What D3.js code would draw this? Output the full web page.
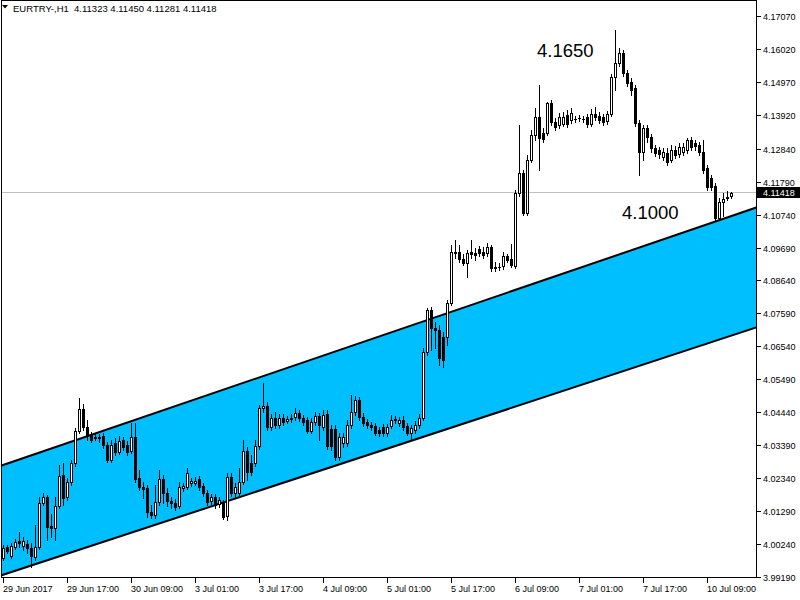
<!DOCTYPE html>
<html><head><meta charset="utf-8">
<script src="https://cdn.jsdelivr.net/npm/d3@7/dist/d3.min.js"></script>
<style>body{margin:0;background:#fff}svg{display:block}</style>
</head><body>
<svg id="chart" width="800" height="600"></svg>
<script>
const symbolTitle = "EURTRY-,H1";
const lastQuote = [4.11323, 4.11450, 4.11281, 4.11418];
const bidPrice = 4.11418;

const open = [
3.9980,4.0015,3.9986,4.0015,4.0034,4.0018,4.0024,4.0012,3.9983,4.0015,
4.0155,4.0174,4.0082,4.0075,4.0145,4.0244,4.0174,4.0222,4.0282,4.0384,
4.0455,4.0397,4.0375,4.0362,4.0365,4.0368,4.0340,4.0292,4.0346,4.0318,
4.0356,4.0340,4.0321,4.0365,4.0235,4.0206,4.0203,4.0126,4.0117,4.0158,
4.0231,4.0187,4.0161,4.0155,4.0145,4.0203,4.0206,4.0219,4.0219,4.0231,
4.0209,4.0187,4.0161,4.0174,4.0152,4.0155,4.0114,4.0238,4.0187,4.0187,
4.0222,4.0321,4.0282,4.0282,4.0337,4.0458,4.0464,4.0397,4.0426,4.0404,
4.0426,4.0416,4.0423,4.0429,4.0442,4.0426,4.0420,4.0384,4.0413,4.0432,
4.0397,4.0439,4.0391,4.0391,4.0302,4.0346,4.0346,4.0404,4.0445,4.0483,
4.0429,4.0413,4.0404,4.0400,4.0388,4.0397,4.0378,4.0400,4.0418,4.0410,
4.0420,4.0400,4.0378,4.0388,4.0404,4.0426,4.0636,4.0770,4.0713,4.0706,
4.0684,4.0684,4.0792,4.0952,4.0955,4.0933,4.0920,4.0955,4.0952,4.0964,
4.0955,4.0952,4.0971,4.0904,4.0907,4.0910,4.0942,4.0933,4.0910,4.1143,
4.1207,4.1079,4.1248,4.1328,4.1385,4.1334,4.1334,4.1430,4.1369,4.1360,
4.1363,4.1392,4.1376,4.1378,4.1381,4.1380,4.1385,4.1363,4.1395,4.1389,
4.1385,4.1372,4.1395,4.1513,4.1557,4.1589,4.1525,4.1497,4.1478,4.1366,
4.1274,4.1350,4.1321,4.1286,4.1280,4.1258,4.1270,4.1248,4.1280,4.1267,
4.1274,4.1280,4.1312,4.1302,4.1296,4.1274,4.1223,4.1191,4.1165,4.1063,
4.1114,4.1127,4.11323];

const high = [
4.0021,4.0021,4.0027,4.0040,4.0063,4.0047,4.0037,4.0027,4.0085,4.0174,
4.0187,4.0181,4.0120,4.0174,4.0276,4.0282,4.0235,4.0292,4.0394,4.0490,
4.0471,4.0420,4.0381,4.0375,4.0375,4.0378,4.0349,4.0356,4.0362,4.0368,
4.0365,4.0353,4.0410,4.0410,4.0260,4.0222,4.0212,4.0149,4.0212,4.0260,
4.0244,4.0203,4.0174,4.0168,4.0222,4.0219,4.0267,4.0235,4.0238,4.0241,
4.0219,4.0196,4.0184,4.0184,4.0174,4.0165,4.0251,4.0251,4.0219,4.0267,
4.0356,4.0334,4.0308,4.0356,4.0467,4.0537,4.0477,4.0439,4.0445,4.0439,
4.0439,4.0432,4.0439,4.0458,4.0451,4.0435,4.0429,4.0426,4.0445,4.0442,
4.0451,4.0451,4.0404,4.0404,4.0378,4.0378,4.0420,4.0499,4.0496,4.0493,
4.0442,4.0423,4.0413,4.0410,4.0397,4.0407,4.0407,4.0435,4.0432,4.0429,
4.0432,4.0410,4.0404,4.0416,4.0439,4.0649,4.0776,4.0780,4.0732,4.0722,
4.0700,4.0802,4.0977,4.0993,4.0977,4.0949,4.0961,4.0993,4.0968,4.0974,
4.0971,4.0984,4.0977,4.0923,4.0920,4.0955,4.0949,4.0980,4.1152,4.1360,
4.1216,4.1264,4.1344,4.1414,4.1487,4.1350,4.1433,4.1439,4.1382,4.1398,
4.1401,4.1407,4.1414,4.1389,4.1392,4.1389,4.1395,4.1411,4.1417,4.1401,
4.1395,4.1404,4.1522,4.1662,4.1605,4.1599,4.1535,4.1509,4.1487,4.1376,
4.1360,4.1360,4.1331,4.1296,4.1289,4.1286,4.1286,4.1296,4.1293,4.1302,
4.1302,4.1318,4.1321,4.1312,4.1305,4.1312,4.1232,4.1200,4.1175,4.1127,
4.1143,4.1149,4.11450];

const low = [
3.9973,3.9996,3.9980,4.0008,4.0015,4.0005,3.9996,3.9951,3.9973,4.0008,
4.0149,4.0037,4.0047,4.0037,4.0139,4.0149,4.0165,4.0212,4.0273,4.0378,
4.0388,4.0356,4.0349,4.0356,4.0349,4.0330,4.0286,4.0286,4.0308,4.0311,
4.0324,4.0308,4.0314,4.0222,4.0196,4.0171,4.0110,4.0107,4.0107,4.0149,
4.0155,4.0145,4.0139,4.0133,4.0139,4.0193,4.0200,4.0209,4.0212,4.0196,
4.0177,4.0149,4.0152,4.0139,4.0142,4.0104,4.0101,4.0177,4.0174,4.0181,
4.0216,4.0228,4.0244,4.0273,4.0327,4.0445,4.0388,4.0388,4.0394,4.0394,
4.0404,4.0410,4.0413,4.0420,4.0416,4.0404,4.0378,4.0378,4.0404,4.0356,
4.0388,4.0327,4.0324,4.0292,4.0292,4.0334,4.0337,4.0394,4.0435,4.0420,
4.0400,4.0394,4.0388,4.0372,4.0368,4.0368,4.0368,4.0394,4.0410,4.0400,
4.0388,4.0372,4.0356,4.0378,4.0394,4.0420,4.0627,4.0643,4.0649,4.0595,
4.0588,4.0659,4.0786,4.0936,4.0923,4.0913,4.0875,4.0936,4.0929,4.0942,
4.0936,4.0942,4.0894,4.0894,4.0897,4.0901,4.0923,4.0907,4.0904,4.1133,
4.1073,4.1073,4.1242,4.1312,4.1216,4.1305,4.1328,4.1360,4.1344,4.1350,
4.1357,4.1353,4.1366,4.1369,4.1372,4.1369,4.1353,4.1357,4.1376,4.1366,
4.1360,4.1363,4.1389,4.1471,4.1548,4.1516,4.1484,4.1455,4.1357,4.1200,
4.1248,4.1305,4.1274,4.1261,4.1254,4.1248,4.1232,4.1242,4.1254,4.1258,
4.1264,4.1270,4.1280,4.1280,4.1264,4.1207,4.1152,4.1152,4.1057,4.1057,
4.1070,4.1121,4.11281];

const close = [
4.0012,4.0002,4.0018,4.0031,4.0027,4.0034,4.0012,3.9986,4.0015,4.0155,
4.0174,4.0079,4.0075,4.0145,4.0241,4.0171,4.0222,4.0282,4.0384,4.0455,
4.0397,4.0372,4.0356,4.0365,4.0362,4.0340,4.0292,4.0340,4.0318,4.0353,
4.0334,4.0318,4.0365,4.0231,4.0206,4.0200,4.0126,4.0117,4.0158,4.0231,
4.0187,4.0161,4.0155,4.0142,4.0206,4.0209,4.0251,4.0225,4.0225,4.0206,
4.0187,4.0158,4.0174,4.0149,4.0165,4.0110,4.0238,4.0187,4.0206,4.0222,
4.0321,4.0254,4.0254,4.0337,4.0458,4.0464,4.0397,4.0426,4.0404,4.0426,
4.0413,4.0423,4.0426,4.0442,4.0426,4.0413,4.0384,4.0413,4.0432,4.0404,
4.0435,4.0337,4.0337,4.0302,4.0365,4.0365,4.0404,4.0445,4.0483,4.0429,
4.0410,4.0404,4.0397,4.0378,4.0378,4.0378,4.0397,4.0420,4.0421,4.0420,
4.0397,4.0378,4.0394,4.0404,4.0426,4.0636,4.0770,4.0713,4.0706,4.0617,
4.0611,4.0792,4.0955,4.0955,4.0933,4.0920,4.0952,4.0949,4.0945,4.0952,
4.0945,4.0971,4.0904,4.0907,4.0906,4.0942,4.0929,4.0913,4.1143,4.1207,
4.1079,4.1248,4.1328,4.1385,4.1318,4.1315,4.1430,4.1369,4.1353,4.1385,
4.1385,4.1363,4.1398,4.1380,4.1382,4.1378,4.1363,4.1395,4.1385,4.1376,
4.1369,4.1395,4.1513,4.1557,4.1589,4.1525,4.1493,4.1471,4.1366,4.1274,
4.1350,4.1321,4.1286,4.1270,4.1267,4.1274,4.1242,4.1280,4.1264,4.1289,
4.1289,4.1312,4.1289,4.1293,4.1274,4.1216,4.1162,4.1162,4.1063,4.1114,
4.1124,4.1130,4.11418];

const timeLabels = ["29 Jun 2017","29 Jun 17:00","30 Jun 09:00","3 Jul 01:00","3 Jul 17:00",
  "4 Jul 09:00","5 Jul 01:00","5 Jul 17:00","6 Jul 09:00","7 Jul 01:00","7 Jul 17:00","10 Jul 09:00"];
const timeLabelBars = [0,16,32,48,64,80,96,112,128,144,160,176];

const priceTicks = [4.17070,4.16020,4.14970,4.13920,4.12840,4.11790,4.10740,4.09690,4.08640,
  4.07590,4.06540,4.05490,4.04440,4.03390,4.02340,4.01290,4.00240,3.99190];

// equidistant channel anchors (bar index, price)
const channelBars = [0, 188];
const channelUpper = [4.0276, 4.1095];
const channelLower = [3.9926, 4.0713];

const annotationTexts = ["4.1650", "4.1000"];
const annotationBars = [133.5, 154.75];
const annotationPrices = [4.1576, 4.1060];

// ---------- drawing ----------
const svg = d3.select("#chart");
const W = 800, H = 600;
const plotL = 1, plotR = 756, plotT = 0, plotB = 577;

const x = d3.scaleLinear().domain([0, 188]).range([3, 755]);
const y = d3.scaleLinear().domain([3.99190, 4.17070]).range([577, 16]);

svg.append("rect").attr("width", W).attr("height", H).attr("fill", "#fff");

svg.append("defs").append("clipPath").attr("id", "plotClip")
  .append("rect").attr("x", plotL + 1).attr("y", plotT + 1)
  .attr("width", plotR - plotL - 1).attr("height", plotB - plotT - 1);

const plot = svg.append("g").attr("clip-path", "url(#plotClip)");

// channel
const lineAt = (arr, b) => arr[0] + (arr[1] - arr[0]) * (b - channelBars[0]) / (channelBars[1] - channelBars[0]);
const bFrom = -3, bTo = 192;
const poly = [
  [x(bFrom), y(lineAt(channelUpper, bFrom))],
  [x(bTo), y(lineAt(channelUpper, bTo))],
  [x(bTo), y(lineAt(channelLower, bTo))],
  [x(bFrom), y(lineAt(channelLower, bFrom))]
];
plot.append("path").attr("d", "M" + poly.map(p => p.join(",")).join("L") + "Z")
  .attr("fill", "#00BFFF");
[channelUpper, channelLower].forEach(arr => {
  plot.append("line")
    .attr("x1", x(bFrom)).attr("y1", y(lineAt(arr, bFrom)))
    .attr("x2", x(bTo)).attr("y2", y(lineAt(arr, bTo)))
    .attr("stroke", "#000").attr("stroke-width", 2);
});

// bid line
const bidY = Math.round(y(bidPrice)) - 0.5;
plot.append("line").attr("x1", plotL).attr("x2", plotR).attr("y1", bidY).attr("y2", bidY)
  .attr("stroke", "#C0C0C0").attr("stroke-width", 1).attr("shape-rendering", "crispEdges");

// candles
const bars = d3.range(open.length).map(i => ({ i, o: open[i], h: high[i], l: low[i], c: close[i] }));
const cg = plot.append("g").attr("shape-rendering", "crispEdges");
bars.forEach(d => {
  const cx = Math.round(x(d.i));
  const hi = Math.round(y(Math.max(d.h, d.o, d.c)));
  const lo = Math.round(y(Math.min(d.l, d.o, d.c)));
  cg.append("line").attr("x1", cx + 0.5).attr("x2", cx + 0.5)
    .attr("y1", hi).attr("y2", lo + 1).attr("stroke", "#000").attr("stroke-width", 1);
  const top = Math.round(y(Math.max(d.o, d.c)));
  const bot = Math.round(y(Math.min(d.o, d.c)));
  if (d.c >= d.o) {
    if (bot - top < 1) {
      cg.append("rect").attr("x", cx - 1).attr("y", top).attr("width", 3).attr("height", 1).attr("fill", "#000");
    } else {
      cg.append("rect").attr("x", cx - 0.5).attr("y", top + 0.5).attr("width", 2).attr("height", bot - top)
        .attr("fill", "#fff").attr("stroke", "#000").attr("stroke-width", 1);
    }
  } else {
    cg.append("rect").attr("x", cx - 1).attr("y", top).attr("width", 3)
      .attr("height", Math.max(1, bot - top + 1)).attr("fill", "#000");
  }
});

// annotations
annotationTexts.forEach((t, k) => {
  plot.append("text").attr("x", x(annotationBars[k])).attr("y", y(annotationPrices[k]))
    .attr("font-family", "Liberation Sans, Arial, sans-serif").attr("font-size", 18.5)
    .attr("fill", "#000").text(t);
});

// frame
svg.append("rect").attr("x", plotL + 0.5).attr("y", plotT + 0.5)
  .attr("width", plotR - plotL).attr("height", plotB - plotT)
  .attr("fill", "none").attr("stroke", "#000").attr("stroke-width", 1)
  .attr("shape-rendering", "crispEdges");

// right price axis
const yg = svg.append("g").attr("font-family", "Liberation Sans, Arial, sans-serif").attr("font-size", 9);
priceTicks.forEach(p => {
  const py = Math.round(y(p)) + 0.5;
  yg.append("line").attr("x1", plotR + 0.5).attr("x2", plotR + 4.5).attr("y1", py).attr("y2", py)
    .attr("stroke", "#000").attr("shape-rendering", "crispEdges");
  yg.append("text").attr("x", plotR + 7).attr("y", py + 3.2).attr("fill", "#000").text(p.toFixed(5));
});

// bid label
yg.append("rect").attr("x", plotR).attr("y", bidY - 5.5).attr("width", W - plotR).attr("height", 11).attr("fill", "#000");
yg.append("text").attr("x", plotR + 7).attr("y", bidY + 3.5).attr("fill", "#fff").text(bidPrice.toFixed(5));

// bottom time axis
const xg = svg.append("g").attr("font-family", "Liberation Sans, Arial, sans-serif").attr("font-size", 9);
timeLabelBars.forEach((b, k) => {
  const tx = Math.round(x(b)) + 0.5;
  xg.append("line").attr("x1", tx).attr("x2", tx).attr("y1", plotB + 1).attr("y2", plotB + 6)
    .attr("stroke", "#000").attr("shape-rendering", "crispEdges");
  xg.append("text").attr("x", tx - 0.5).attr("y", 592).attr("fill", "#000").text(timeLabels[k]);
});

// title
svg.append("path").attr("d", "M2,5 L8,5 L5,8.5 Z").attr("fill", "#000");
svg.append("text").attr("x", 13).attr("y", 11.5)
  .attr("font-family", "Liberation Sans, Arial, sans-serif").attr("font-size", 9.5)
  .attr("fill", "#000").style("white-space", "pre")
  .text(symbolTitle + "  " + lastQuote.map(v => v.toFixed(5)).join(" "));
</script>
</body></html>
